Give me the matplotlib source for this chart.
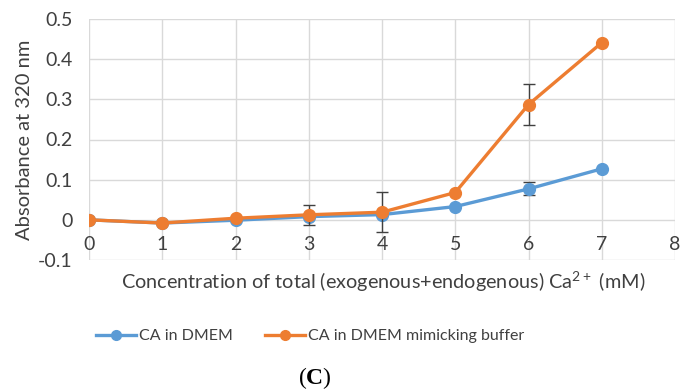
import matplotlib
matplotlib.use("Agg")
import matplotlib.pyplot as plt
from matplotlib.lines import Line2D

plt.rcParams['font.family'] = ['Lato', 'DejaVu Sans']
plt.rcParams['mathtext.fontset'] = 'custom'
plt.rcParams['mathtext.bf'] = 'Liberation Serif:bold'

conc = [0, 1, 2, 3, 4, 5, 6, 7]
dmem = [0.0, -0.008, -0.001, 0.008, 0.013, 0.033, 0.077, 0.127]
dmem_err = [0, 0, 0, 0, 0, 0, 0.016, 0]
buffer = [0.0, -0.008, 0.004, 0.0125, 0.019, 0.068, 0.287, 0.441]
buffer_err = [0, 0, 0, 0.025, 0.05, 0, 0.052, 0]
series_labels = ['CA in DMEM', 'CA in DMEM mimicking buffer']

blue = '#5B9BD5'
orange = '#ED7D31'
text_col = '#404040'

fig = plt.figure(figsize=(6.83, 3.92), dpi=100)
ax = fig.add_axes([89 / 683, 1 - 260 / 392, (675 - 89) / 683, (260 - 19) / 392])

ax.errorbar(conc, dmem, yerr=dmem_err, color=blue, lw=2.4, marker='o', ms=8.5,
            ecolor='#404040', elinewidth=1, capsize=4, capthick=1, zorder=3)
ax.errorbar(conc, buffer, yerr=buffer_err, color=orange, lw=2.4, marker='o', ms=8.5,
            ecolor='#404040', elinewidth=1, capsize=4, capthick=1, zorder=4)

ax.set_xlim(0, 8)
ax.set_ylim(-0.1, 0.5)
ax.set_xticks(range(0, 9))
ax.set_yticks([-0.1, 0, 0.1, 0.2, 0.3, 0.4, 0.5])
ax.set_yticklabels(['-0.1', '0', '0.1', '0.2', '0.3', '0.4', '0.5'])
ax.grid(True, color='#D9D9D9', lw=1)
ax.set_axisbelow(True)
for s in ['top', 'right', 'left']:
    ax.spines[s].set_visible(False)
ax.spines['bottom'].set_position(('data', 0))
ax.spines['bottom'].set_visible(False)
ax.tick_params(axis='both', length=0, labelsize=14, colors=text_col)
ax.tick_params(axis='y', pad=12)
ax.tick_params(axis='x', pad=12)

fig.text(25 / 683, 1 - 140 / 392, 'Absorbance at 320 nm', rotation=90,
         ha='center', va='center', fontsize=14.5, color=text_col)
fig.text(383 / 683, 1 - 282 / 392,
         'Concentration of total (exogenous+endogenous) Ca$^{\\mathregular{2+}}$ (mM)',
         ha='center', va='center', fontsize=14.3, color=text_col)

handles = [Line2D([], [], color=blue, lw=2.4, marker='o', ms=7),
           Line2D([], [], color=orange, lw=2.4, marker='o', ms=7)]
fig.legend(handles, series_labels, loc='center', ncol=2, frameon=False,
           bbox_to_anchor=(310 / 683, 1 - 336 / 392), fontsize=11.5,
           handlelength=2.5, handletextpad=0.2, columnspacing=2.0,
           labelcolor=text_col)

fig.text(315 / 683, 1 - 378 / 392, '($\\mathbf{C}$)', ha='center', va='center',
         fontsize=17, family='Liberation Serif')

fig.savefig('out.png', dpi=100)
